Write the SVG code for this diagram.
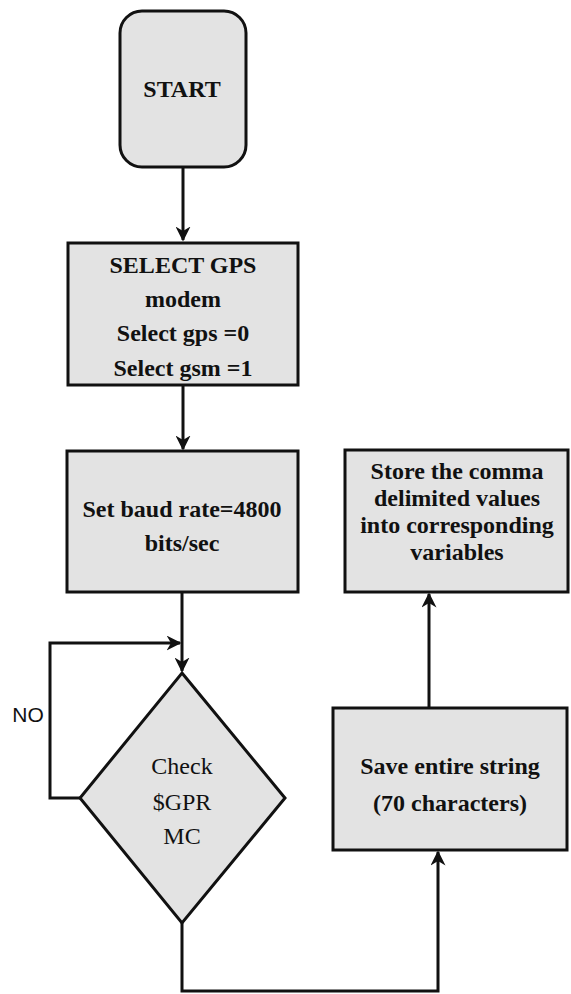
<svg xmlns="http://www.w3.org/2000/svg" width="571" height="994" viewBox="0 0 571 994">
<style>
.box{fill:#e3e3e3;stroke:#111;stroke-width:3}
.t{font-family:"Liberation Serif","Times New Roman",serif;font-weight:bold;font-size:24px;fill:#111;text-anchor:middle}
.d{font-family:"Liberation Serif","Times New Roman",serif;font-size:24px;fill:#111;text-anchor:middle}
.c{fill:none;stroke:#111;stroke-width:3}
</style>
<defs>
<marker id="ah" viewBox="0 0 10 10" refX="9" refY="5" markerWidth="5" markerHeight="5" orient="auto" markerUnits="strokeWidth">
<path d="M0,0 L10,5 L0,10 L3,5 z" fill="#111"/>
</marker>
</defs>
<rect width="571" height="994" fill="#fff"/>
<g id="connectors">
<path class="c" d="M183,167 V240" marker-end="url(#ah)"/>
<path class="c" d="M183,385 V449" marker-end="url(#ah)"/>
<path class="c" d="M182,592 V671" marker-end="url(#ah)"/>
<path class="c" d="M80,798 H50 V643 H180" marker-end="url(#ah)"/>
<path class="c" d="M182,923 V991 H438 V852" marker-end="url(#ah)"/>
<path class="c" d="M429,708 V594" marker-end="url(#ah)"/>
</g>
<g id="start">
<rect class="box" x="120" y="11" width="126" height="156" rx="22"/>
<text class="t" x="182" y="97" font-size="26">START</text>
</g>
<g id="select">
<rect class="box" x="68" y="243" width="230" height="142"/>
<text class="t" x="183" y="273" font-size="25">SELECT GPS</text>
<text class="t" x="183" y="307">modem</text>
<text class="t" x="183" y="341">Select gps =0</text>
<text class="t" x="183" y="376">Select gsm =1</text>
</g>
<g id="baud">
<rect class="box" x="67" y="451" width="231" height="141"/>
<text class="t" x="182" y="517">Set baud rate=4800</text>
<text class="t" x="182" y="551">bits/sec</text>
</g>
<g id="store">
<rect class="box" x="345" y="450" width="223" height="142"/>
<text class="t" x="457" y="479">Store the comma</text>
<text class="t" x="457" y="506">delimited values</text>
<text class="t" x="457" y="533">into corresponding</text>
<text class="t" x="457" y="560">variables</text>
</g>
<g id="check">
<polygon class="box" points="182,673 285,798 182,923 80,798"/>
<text class="d" x="182" y="774">Check</text>
<text class="d" x="182" y="810">$GPR</text>
<text class="d" x="182" y="844">MC</text>
</g>
<g id="save">
<rect class="box" x="333" y="708" width="234" height="142"/>
<text class="t" x="450" y="774">Save entire string</text>
<text class="t" x="450" y="811">(70 characters)</text>
</g>
<text x="28" y="722" font-family="'Liberation Sans',Arial,sans-serif" font-size="21" fill="#111" text-anchor="middle">NO</text>
</svg>
